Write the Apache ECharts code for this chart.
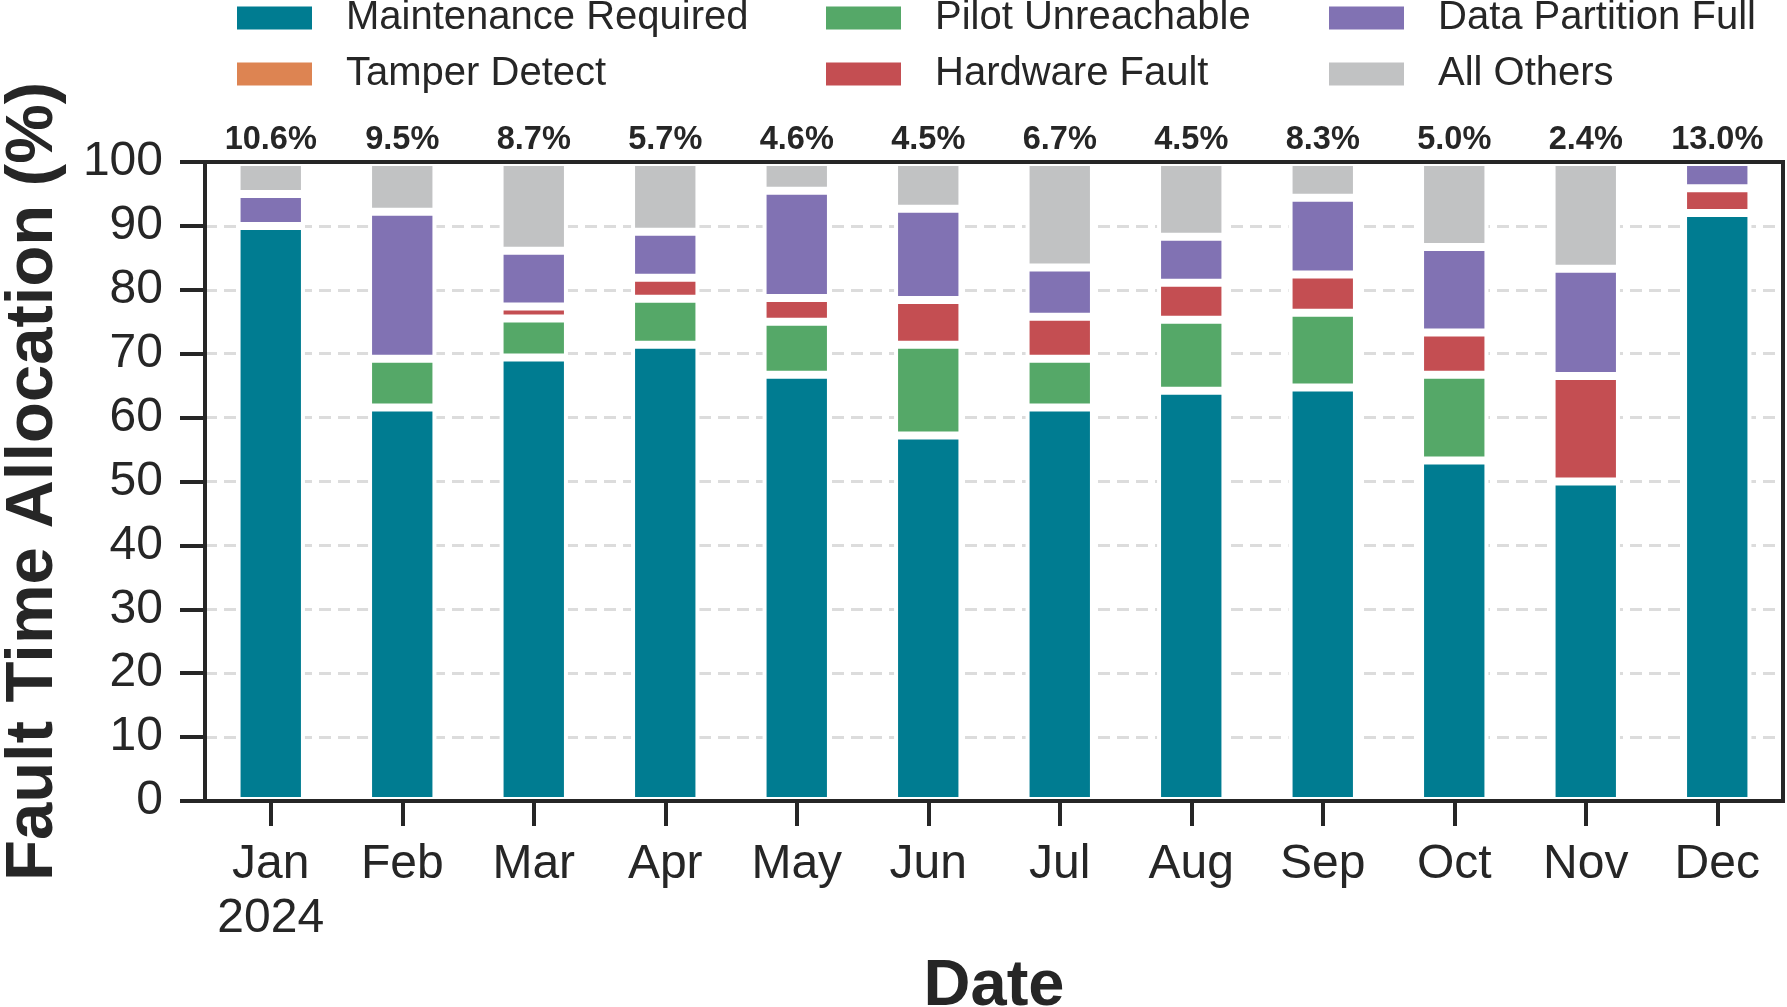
<!DOCTYPE html>
<html><head><meta charset="utf-8">
<script src="https://cdn.jsdelivr.net/npm/echarts@6/dist/echarts.min.js"></script>
<style>html,body{margin:0;padding:0;background:#fff}#c{width:1787px;height:1007px}</style>
</head><body><div id="c"></div><script>
const months = ['Jan\n2024','Feb','Mar','Apr','May','Jun','Jul','Aug','Sep','Oct','Nov','Dec'];
const maintenanceRequired = [90.0, 61.6, 69.4, 71.4, 66.7, 57.2, 61.6, 64.2, 64.7, 53.3, 50.0, 92.0];
const tamperDetect        = [0, 0, 0, 0, 0, 0, 0, 0, 0, 0, 0, 0];
const pilotUnreachable    = [0, 7.6, 6.1, 7.2, 8.3, 14.2, 7.6, 11.1, 11.7, 13.4, 0, 0];
const hardwareFault       = [0, 0, 1.9, 3.3, 3.7, 7.0, 6.6, 5.8, 6.0, 6.6, 16.5, 3.9];
const dataPartitionFull   = [5.0, 23.0, 8.7, 7.2, 16.8, 14.3, 7.7, 7.2, 12.0, 13.4, 16.8, 4.1];
const allOthers           = [5.0, 7.8, 13.9, 10.9, 4.5, 7.3, 16.5, 11.7, 5.6, 13.3, 16.7, 0];
const topLabels = ['10.6%','9.5%','8.7%','5.7%','4.6%','4.5%','6.7%','4.5%','8.3%','5.0%','2.4%','13.0%'];
const yTicks = [0,10,20,30,40,50,60,70,80,90,100];

const FONT = 'Liberation Sans, Arial, Helvetica, sans-serif';
const INK = '#262626';
const seriesDefs = [
  ['Maintenance Required', maintenanceRequired, '#007c91'],
  ['Tamper Detect', tamperDetect, '#dd8452'],
  ['Pilot Unreachable', pilotUnreachable, '#55a868'],
  ['Hardware Fault', hardwareFault, '#c44e52'],
  ['Data Partition Full', dataPartitionFull, '#8172b3'],
  ['All Others', allOthers, '#c1c2c3']
];
// stack totals (top of each bar), built from the series arrays
const stackTotals = months.map((_, i) => seriesDefs.reduce((s, d) => s + d[1][i], 0));

const series = seriesDefs.map(([name, data, color]) => ({
  name, type: 'bar', stack: 'total', data, barWidth: '52%',
  xAxisIndex: 0, yAxisIndex: 0,
  itemStyle: { color, borderColor: '#ffffff', borderWidth: 4 },
  emphasis: { disabled: true }
}));
series.push({
  name: 'labels', type: 'scatter', data: stackTotals, symbolSize: 0,
  xAxisIndex: 0, yAxisIndex: 0, silent: true, z: 5,
  itemStyle: { opacity: 1, color: INK },
  label: {
    show: true, position: 'top', distance: 5,
    formatter: p => topLabels[p.dataIndex],
    fontFamily: FONT, fontWeight: 'bold', fontSize: 32.5, color: INK, opacity: 1
  }
});

const legendCommon = {
  orient: 'vertical', itemWidth: 75, itemHeight: 23, itemGap: 16, padding: 0,
  icon: 'rect', selectedMode: false,
  itemStyle: { borderWidth: 0 },
  textStyle: { fontFamily: FONT, fontSize: 40, color: INK, lineHeight: 40, padding: [0,0,0,29] }
};

const spine = () => ({ show: true, onZero: false, lineStyle: { color: INK, width: 4, cap: 'square' } });
const hiddenLabel = () => ({ show: false });

const chart = echarts.init(document.getElementById('c'), null, { renderer: 'canvas' });
chart.setOption({
  animation: false,
  backgroundColor: '#ffffff',
  legend: [
    Object.assign({}, legendCommon, { left: 237, top: -2, data: ['Maintenance Required', 'Tamper Detect'] }),
    Object.assign({}, legendCommon, { left: 826, top: -2, data: ['Pilot Unreachable', 'Hardware Fault'] }),
    Object.assign({}, legendCommon, { left: 1329, top: -2, data: ['Data Partition Full', 'All Others'] })
  ],
  grid: { left: 205, right: 4, top: 162, bottom: 206, containLabel: false, outerBoundsMode: 'none' },
  xAxis: [{
    type: 'category', data: months, boundaryGap: true, position: 'bottom', z: 10,
    name: 'Date', nameLocation: 'middle', nameGap: 154, nameMoveOverlap: false,
    nameTextStyle: { fontFamily: FONT, fontWeight: 'bold', fontSize: 65, color: INK },
    axisLine: spine(),
    axisTick: { show: true, alignWithLabel: true, length: 25, lineStyle: { color: INK, width: 4 } },
    axisLabel: { fontFamily: FONT, fontSize: 48, color: INK, margin: 37, lineHeight: 54, interval: 0 },
    splitLine: { show: false }
  }, {
    type: 'category', data: months, boundaryGap: true, position: 'top', z: 10,
    axisLine: spine(), axisTick: { show: false }, axisLabel: hiddenLabel(), splitLine: { show: false }
  }],
  yAxis: [{
    type: 'value', min: 0, max: 100, interval: 10, position: 'left', z: 0,
    axisLine: { show: false }, axisTick: { show: false }, axisLabel: hiddenLabel(),
    splitLine: { show: true, lineStyle: { color: '#dcdcdc', width: 3, type: [12, 7] } }
  }, {
    type: 'value', min: 0, max: 100, interval: 10, position: 'left', z: 10,
    name: 'Fault Time Allocation (%)', nameLocation: 'middle', nameGap: 138, nameMoveOverlap: false,
    nameTextStyle: { fontFamily: FONT, fontWeight: 'bold', fontSize: 67, color: INK },
    axisLine: spine(),
    axisTick: { show: true, length: 25, lineStyle: { color: INK, width: 4 } },
    axisLabel: { fontFamily: FONT, fontSize: 48, color: INK, margin: 42,
      formatter: v => yTicks.includes(v) ? String(v) : '' },
    splitLine: { show: false }
  }, {
    type: 'value', min: 0, max: 100, interval: 10, position: 'right', z: 10,
    axisLine: spine(), axisTick: { show: false }, axisLabel: hiddenLabel(), splitLine: { show: false }
  }],
  series
});
</script></body></html>
